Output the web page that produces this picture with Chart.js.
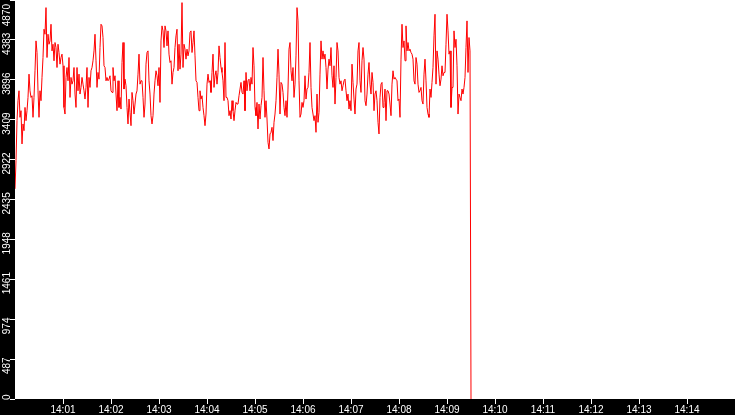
<!DOCTYPE html>
<html>
<head>
<meta charset="utf-8">
<script src="https://cdn.jsdelivr.net/npm/chart.js@4.4.1/dist/chart.umd.min.js"></script>
<style>
  html, body { margin: 0; padding: 0; background: #000; }
  #wrap { width: 735px; height: 415px; }
</style>
</head>
<body>
<div id="wrap"><canvas id="chart1" width="735" height="415"></canvas></div>
<script>
// samples start at 14:00:00, one every 1.25 s
const startHour = 14;
const stepSec = 1.25;
const yMax = 4870;
const yStep = 487;

const values = [
  2565, 2910, 3397, 3641, 3762, 3438, 3519, 3113, 3357, 3275, 3559, 3397, 3519, 3681, 3965, 3762, 3681, 3701, 3438, 3681,
  4006, 4371, 4229, 3762, 3438, 3762, 3641, 3925, 4168, 4513, 4452, 4777, 4168, 4452, 4330, 4371, 4574, 4249, 4330, 4128,
  4351, 4290, 4046, 4330, 4229, 4087, 4168, 4209, 4067, 3559, 3478, 3925, 4046, 3884, 4168, 3681, 3925, 3843, 3884, 4046,
  3722, 3559, 4046, 3762, 3965, 3722, 3803, 3925, 3843, 3762, 3661, 3803, 4046, 3559, 3925, 3803, 4006, 4046, 4128, 4249,
  4452,
  4128, 3803, 3986, 3904, 4290, 4574, 4554, 4412, 4067, 4046, 3884, 3925, 3884, 3904, 3945, 3762, 3742, 4046, 3884, 3945,
  3722, 3519, 3884, 3559, 3681, 3539, 4107, 4351, 3783, 3904, 3823, 3559, 3357, 3661, 3499, 3336, 3742, 3641, 3478, 3600,
  3722, 3762, 3965, 4209, 3843, 3884, 3884, 3681, 3438, 3600, 4087, 4229, 4249, 3884, 3722, 3458, 3357, 3458, 3722, 3884,
  4006, 3945, 3823, 4046, 3620, 4371, 4554, 4493, 4290, 4554, 4493, 4310, 4493, 4209, 4107, 4128, 3843, 3986, 4046,
  4290, 4432, 4513, 4006, 4330, 4026, 4209, 4838, 4046, 4330, 4270, 4148, 4270, 4188, 4249, 4473, 4493, 4229, 4351, 4493,
  4188, 3884, 3864, 3681, 3519, 3762, 3661, 3701, 3559, 3458, 3336, 3478, 3843, 3965, 3864, 3884, 3742, 3986, 4209, 3803,
  3945, 4006, 3843, 3986, 4310, 4168, 4046, 3986, 3884, 3641, 4351, 3681, 3681, 3641, 3458, 3519, 3417, 3641, 3519, 3397,
  3519, 3620, 3600, 3600, 3701, 3783, 3864, 3742, 3722, 3884, 3519, 3986, 3762, 3884, 3904, 3762, 3925, 3843, 4290, 4067,
  3559, 3458, 3620, 3296, 3600, 3417, 3580, 3681, 4168, 3762, 3438, 3641, 3417, 3133, 3052, 3235, 3255, 3316, 3154, 3377,
  3478, 3641, 3925, 4270, 3965, 3478, 3864, 3843, 3742, 3559, 3458, 3641, 3438, 3783, 4270, 4351, 4006, 3884, 4046, 3681,
  3843, 4188, 4777, 4615, 3884, 3438, 3478, 3620, 3559, 3641, 3945, 3661, 3783, 3803, 3986, 4351, 3803, 3559, 3478, 3397,
  3458, 3255, 3722, 3377, 3499, 3965, 4371, 4148, 4249, 4148, 4209, 4046, 3783, 4026, 4148, 4067, 4290, 3945, 3803, 4067,
  3600, 3925, 4351, 4249, 3925, 3843, 3884, 3762, 3823, 3884, 3904, 3762, 3641, 3722, 3539, 3641, 3519, 4087, 3864, 3661,
  3478, 3783, 3843, 4249, 4351, 3884, 3742, 4128, 4290, 4148, 3641, 3580, 3722, 3965, 4107, 3843, 3722, 3986, 3864, 3519,
  3722, 3762, 3641, 3377, 3235, 3681, 3843, 3864, 3559, 3620, 3783, 3397, 3762, 3762, 3722, 3600, 3458, 3843, 4006, 3904,
  3925, 3904, 3884, 3641, 3661, 3438, 4148, 4574, 4290, 4371, 4128, 4554, 4249, 4351, 4249, 4270, 4229, 4209, 4148, 3884,
  3843, 4168, 4087, 3843, 3742, 3762, 3803, 3641, 3600, 3965, 4148, 3884, 3559, 3478, 3438, 3783, 3681, 3864, 4046, 4432,
  4696, 3843, 4249, 4148, 3965, 3823, 3904, 4067, 3945, 3986, 3986, 4330, 4696, 4493, 4209, 4249, 3559, 3803, 3803, 4493,
  4290, 4391, 4067, 3478, 3722, 3681, 3641, 3783, 3722, 3803, 3925, 4290, 4615, 3986, 4412, 4249, 0
];

const points = values.map((v, i) => ({ x: i * stepSec, y: v }));

const fontFamily = '"Liberation Sans", Arial, sans-serif';

// black frame, white plot area
const frame = {
  id: 'frame',
  beforeDraw(chart) {
    const { ctx, chartArea: a } = chart;
    ctx.save();
    ctx.fillStyle = '#000';
    ctx.fillRect(0, 0, chart.width, chart.height);
    ctx.fillStyle = '#fff';
    ctx.fillRect(a.left, a.top, a.right - a.left, a.bottom - a.top);
    ctx.restore();
  },
  // rotated value labels, reading upwards, starting just below each tick
  afterDraw(chart) {
    const { ctx } = chart;
    const ys = chart.scales.y;
    ctx.save();
    ctx.font = '10px ' + fontFamily;
    ctx.fillStyle = '#fff';
    ys.ticks.forEach(t => {
      const p = ys.getPixelForValue(t.value);
      const label = String(t.value);
      const w = ctx.measureText(label).width;
      let start = Math.min(p + 15, ys.bottom + 1);
      start = Math.max(start, w + 4);
      ctx.save();
      ctx.translate(10, start);
      ctx.rotate(-Math.PI / 2);
      ctx.textAlign = 'left';
      ctx.textBaseline = 'alphabetic';
      ctx.fillText(label, 0, 0);
      ctx.restore();
    });
    ctx.restore();
  }
};

const config = {
  type: 'line',
  data: {
    datasets: [{
      data: points,
      borderColor: '#ff0000',
      borderWidth: 1,
      pointRadius: 0,
      tension: 0,
      fill: false
    }]
  },
  options: {
    responsive: false,
    animation: false,
    devicePixelRatio: 1,
    layout: { padding: 0 },
    plugins: {
      legend: { display: false },
      tooltip: { enabled: false }
    },
    scales: {
      x: {
        type: 'linear',
        min: 0,
        max: 900,
        afterBuildTicks(scale) {
          scale.ticks = scale.ticks.filter(t => t.value > 0 && t.value < 900);
        },
        afterFit(scale) { scale.height = 16; },
        border: { display: false },
        grid: {
          drawOnChartArea: false,
          drawTicks: true,
          tickLength: 5,
          color: '#fff'
        },
        ticks: {
          stepSize: 60,
          autoSkip: false,
          maxRotation: 0,
          padding: 0,
          color: '#fff',
          font: { family: fontFamily, size: 10 },
          callback: v => startHour + ':' + String(v / 60).padStart(2, '0')
        }
      },
      y: {
        min: 0,
        max: yMax,
        afterFit(scale) { scale.width = 15; },
        border: { display: false },
        grid: {
          drawOnChartArea: false,
          drawTicks: true,
          tickLength: 5,
          color: '#fff'
        },
        ticks: {
          stepSize: yStep,
          display: false
        }
      }
    }
  },
  plugins: [frame]
};

const ctx1 = document.getElementById('chart1').getContext('2d');
const chart1 = new Chart(ctx1, config);
</script>
</body>
</html>
